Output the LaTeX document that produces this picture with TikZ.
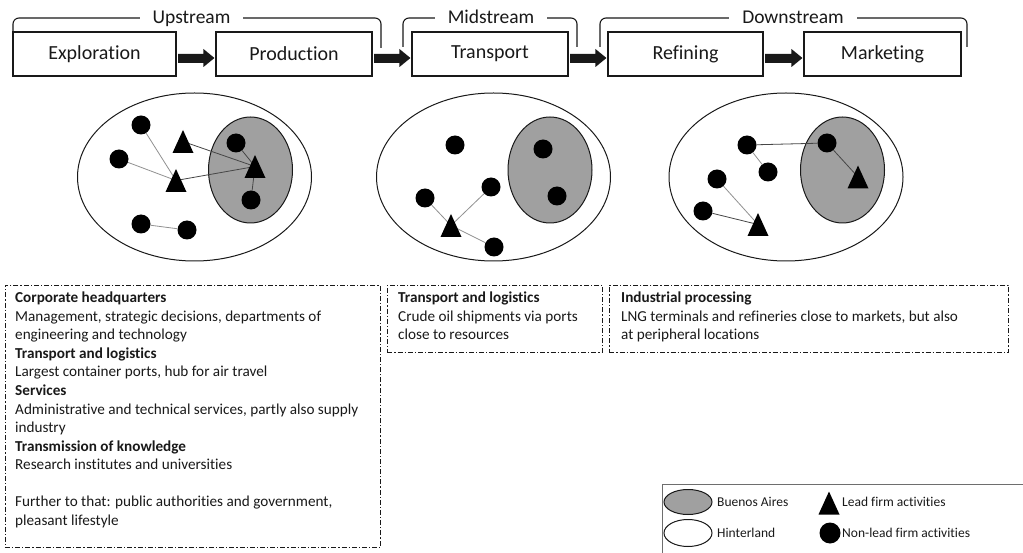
\documentclass[tikz,border=0pt]{standalone}
\usepackage{fontspec}
\setmainfont{Carlito}[Ligatures=NoCommon]
\usetikzlibrary{shapes.geometric,calc}
\definecolor{bagray}{RGB}{160,160,160}
\definecolor{linkgray}{RGB}{145,145,145}
\definecolor{linkdark}{RGB}{70,70,70}
\definecolor{ink}{RGB}{25,25,25}
\definecolor{legline}{RGB}{110,110,110}
\newcommand\leadtri[1]{\fill[black] ([yshift=11.5pt]#1) -- ([xshift=-10.5pt,yshift=-11.5pt]#1) -- ([xshift=10.5pt,yshift=-11.5pt]#1) -- cycle;}
\newcommand\blockarr[2]{\fill[ink] ($(#1.east)+(1.5,0)$) -- ($(#2.west)+(-12,0)$) -- ($(#2.west)+(-12,-5)$) -- ($(#2.west)+(-1,4)$) -- ($(#2.west)+(-12,13)$) -- ($(#2.west)+(-12,9)$) -- ($(#1.east)+(1.5,9)$) -- cycle;}
\begin{document}
\begin{tikzpicture}[x=1pt,y=-1pt,
  stagebox/.style={draw=ink, line width=1.1pt, minimum height=44pt, minimum width=156pt, inner sep=0, font=\fontsize{20}{22}\selectfont, text=ink},
  bracket/.style={draw=ink, line width=1.1pt, rounded corners=6pt},
  brlabel/.style={fill=white, inner xsep=13pt, inner ysep=0pt, anchor=base, font=\fontsize{19.5}{22}\selectfont, text=ink},
  hinter/.style={ellipse, draw=ink, line width=1pt, fill=white, minimum width=234pt, minimum height=168pt, inner sep=0},
  ba/.style={ellipse, draw=ink, line width=1pt, fill=bagray, minimum width=84pt, minimum height=106pt, inner sep=0},
  dot/.style={circle, fill=black, minimum size=19pt, inner sep=0},
  lk/.style={draw=linkgray, line width=0.8pt},
  lkd/.style={draw=linkdark, line width=0.8pt},
  textbox/.style={draw=ink, line width=0.9pt, dash pattern=on 5pt off 2pt on 1.2pt off 2pt, anchor=north west, inner sep=0},
  txt/.style={anchor=base west, inner sep=0, font=\fontsize{15.2}{18.5}\selectfont, text=ink},
  legtxt/.style={anchor=west, inner sep=0, font=\fontsize{13.5}{16}\selectfont, text=ink}
]
\useasboundingbox (0,0) rectangle (1023,553);
\clip (0,0) rectangle (1023,553);

% stages
\node[stagebox, minimum width=163pt] (expl) at (94.5,54) {Exploration};
\node[stagebox] (prod) at (294,54) {Production};
\node[stagebox] (trans) at (490,54) {Transport};
\node[stagebox, minimum width=155pt] (refi) at (685.5,54) {Refining};
\node[stagebox, minimum width=157pt] (mark) at (882.5,54) {Marketing};
\blockarr{expl}{prod}
\blockarr{prod}{trans}
\blockarr{trans}{refi}
\blockarr{refi}{mark}

% brackets
\draw[bracket] (13,48) -- (13,18) -- (381,18) -- (381,48);
\draw[bracket] (403,47) -- (403,18) -- (577,18) -- (577,47);
\draw[bracket] (600,47) -- (600,18) -- (967,18) -- (967,47);
\node[brlabel] (up) at (191.5,24) {Upstream};
\node[brlabel] (mid) at (491,24) {Midstream};
\node[brlabel] (down) at (793,24) {Downstream};

% left region
\node[hinter] (hL) at (194.5,177) {};
\node[ba] (bL) at (250.5,170) {};
\node[dot] (dL1) at (141,125) {};
\node[dot] (dL2) at (119,159) {};
\node[dot] (dL3) at (236,143) {};
\node[dot] (dL4) at (251,200) {};
\node[dot] (dL5) at (141,224) {};
\node[dot] (dL6) at (187,230) {};
\coordinate (tL1) at (183,141.5);
\coordinate (tL2) at (176,180.5);
\coordinate (tL3) at (255,166.5);
\draw[lk] (dL1) -- (tL2);
\draw[lk] (dL2) -- (tL2);
\draw[lkd] (tL2) -- (tL3);
\draw[lkd] (tL1) -- (tL3);
\draw[lkd] (dL3) -- (tL3);
\draw[lkd] (tL3) -- (dL4);
\draw[lk] (dL5) -- (dL6);
\leadtri{tL1}
\leadtri{tL2}
\leadtri{tL3}

% middle region
\node[hinter] (hM) at (493.5,177) {};
\node[ba] (bM) at (550,170) {};
\node[dot] (dM1) at (455,145) {};
\node[dot] (dM2) at (543,149) {};
\node[dot] (dM3) at (491,187) {};
\node[dot] (dM4) at (425,198) {};
\node[dot] (dM5) at (557,196) {};
\node[dot] (dM6) at (494,247) {};
\coordinate (tM) at (451,225.5);
\draw[lk] (dM4) -- (tM);
\draw[lk] (tM) -- (dM3);
\draw[lk] (tM) -- (dM6);
\leadtri{tM}

% right region
\node[hinter] (hR) at (786,177) {};
\node[ba] (bR) at (842.5,170) {};
\node[dot] (dR1) at (747,145) {};
\node[dot] (dR2) at (827,143) {};
\node[dot] (dR3) at (768,172) {};
\node[dot] (dR4) at (717,179) {};
\node[dot] (dR5) at (703,211) {};
\coordinate (tR1) at (858,177);
\coordinate (tR2) at (758,224.5);
\draw[lkd] (dR1) -- (dR2);
\draw[lk] (dR1) -- (dR3);
\draw[lkd] (dR2) -- (tR1);
\draw[lk] (dR4) -- (tR2);
\draw[lkd] (dR5) -- (tR2);
\leadtri{tR1}
\leadtri{tR2}

% text boxes
\node[textbox, minimum width=375.5pt, minimum height=262pt] (boxL) at (4.5,285) {};
\node[textbox, minimum width=215pt, minimum height=67pt] (boxM) at (387,285) {};
\node[textbox, minimum width=399pt, minimum height=67pt] (boxR) at (609,285) {};

\node[txt] (L0) at (15,303) {\bfseries Corporate headquarters};
\node[txt] (L1) at (15,321.5) {Management, strategic decisions, departments of};
\node[txt] (L2) at (15,340) {engineering and technology};
\node[txt] (L3) at (15,358.5) {\bfseries Transport and logistics};
\node[txt] (L4) at (15,377) {Largest container ports, hub for air travel};
\node[txt] (L5) at (15,395.5) {\bfseries Services};
\node[txt] (L6) at (15,414) {Administrative and technical services, partly also supply};
\node[txt] (L7) at (15,432.5) {industry};
\node[txt] (L8) at (15,451) {\bfseries Transmission of knowledge};
\node[txt] (L9) at (15,469.5) {Research institutes and universities};
\node[txt] (L11) at (15,506.5) {Further to that: public authorities and government,};
\node[txt] (L12) at (15,525) {pleasant lifestyle};

\node[txt] (M0) at (398,303) {\bfseries Transport and logistics};
\node[txt] (M1) at (398,321.5) {Crude oil shipments via ports};
\node[txt] (M2) at (398,340) {close to resources};

\node[txt] (R0) at (621,303) {\bfseries Industrial processing};
\node[txt] (R1) at (621,321.5) {LNG terminals and refineries close to markets, but also};
\node[txt] (R2) at (621,340) {at peripheral locations};

% legend
\node[draw=legline, line width=1pt, anchor=north west, minimum width=380pt, minimum height=90pt, inner sep=0] (legend) at (662,484) {};
\node[ba, minimum width=48pt, minimum height=25pt] (legBA) at (688,502) {};
\node[hinter, minimum width=48pt, minimum height=27pt] (legHI) at (688,533) {};
\node[legtxt] (legBAt) at (717,502) {Buenos Aires};
\node[legtxt] (legHIt) at (717,533) {Hinterland};
\coordinate (legT) at (829,503);
\leadtri{legT}
\node[dot, minimum size=21pt] (legD) at (830,533) {};
\node[legtxt] (legTt) at (842,502) {Lead firm activities};
\node[legtxt] (legDt) at (842,533) {Non-lead firm activities};
\end{tikzpicture}
\end{document}
